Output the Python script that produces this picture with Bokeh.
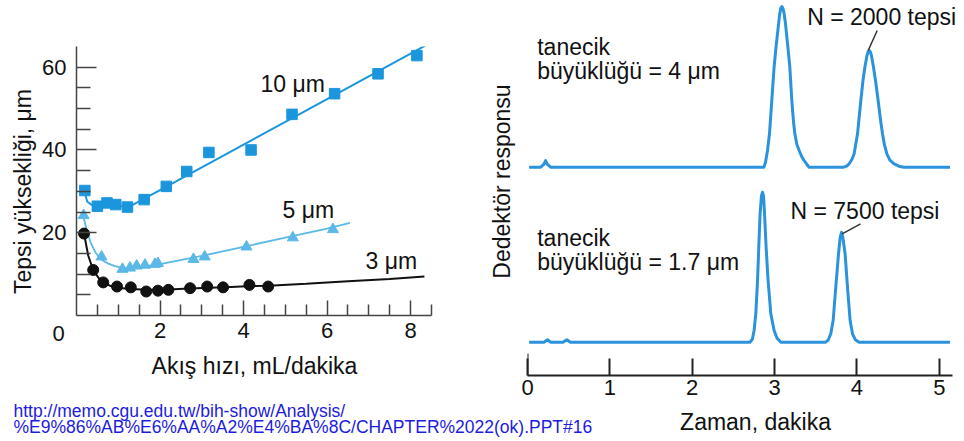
import math
from bokeh.plotting import figure
from bokeh.models import Range1d, FixedTicker, Label
from bokeh.layouts import row
from bokeh.embed import file_html
from bokeh.resources import INLINE

FONT = "Liberation Sans"

# ---------------- left chart: plate height vs flow rate ----------------
flow_10um = [0.20, 0.50, 0.73, 0.94, 1.22, 1.62, 2.15, 2.64, 3.17, 4.18, 5.16, 6.18, 7.22, 8.15]
plate_10um = [30.2, 26.4, 27.2, 26.8, 26.2, 28.0, 31.2, 34.8, 39.4, 40.0, 48.6, 53.6, 58.4, 62.8]
fit_x_10um = [0.12, 0.18, 0.26, 0.40, 0.70, 1.00, 1.30, 1.60, 2.00, 3.00, 4.00, 5.00, 6.00, 7.00, 8.35]
fit_y_10um = [30.6, 30.2, 27.5, 26.5, 26.3, 26.4, 26.5, 28.1, 30.3, 35.8, 41.3, 46.8, 52.3, 57.8, 65.2]

flow_5um = [0.17, 0.60, 1.10, 1.28, 1.44, 1.64, 1.88, 1.95, 2.80, 3.07, 4.07, 5.18, 6.14]
plate_5um = [24.2, 14.2, 11.2, 11.5, 12.0, 12.2, 12.4, 12.6, 13.6, 14.2, 16.6, 18.8, 20.8]
fit_x_5um = [0.15, 0.25, 0.34, 0.45, 0.58, 0.75, 0.90, 1.10, 1.30, 1.60, 2.00, 3.00, 4.00, 5.00, 6.00, 6.55]
fit_y_5um = [24.4, 20.5, 17.6, 15.3, 13.6, 12.6, 12.0, 11.5, 11.4, 11.8, 12.4, 14.4, 16.6, 18.8, 21.0, 22.4]

flow_3um = [0.18, 0.40, 0.64, 0.97, 1.30, 1.67, 1.95, 2.20, 2.72, 3.13, 3.51, 4.14, 4.59]
plate_3um = [19.8, 11.0, 8.0, 7.0, 6.8, 5.8, 6.0, 6.2, 6.6, 7.0, 6.8, 7.4, 7.0]
fit_x_3um = [0.18, 0.28, 0.40, 0.52, 0.64, 0.80, 0.97, 1.30, 1.70, 2.20, 2.70, 3.20, 3.70, 4.20, 4.60, 5.50, 6.50, 7.50, 8.33]
fit_y_3um = [19.8, 14.5, 11.0, 9.2, 8.0, 7.2, 6.7, 6.4, 6.2, 6.3, 6.5, 6.7, 6.9, 7.1, 7.2, 7.7, 8.3, 8.8, 9.4]

left_major_x = [2, 4, 6, 8]
left_minor_x = [0.5, 1, 1.5, 2.5, 3, 3.5, 4.5, 5, 5.5, 6.5, 7, 7.5, 8.5]
left_major_y = [20, 40, 60]
left_minor_y = [5, 10, 15, 25, 30, 35, 45, 50, 55]

# ---------------- right chart: chromatograms ----------------
t_upper = [0.02, 0.16, 0.20, 0.22, 0.24, 0.28,
           2.87, 2.89, 2.914, 2.938, 2.966, 2.994, 3.015, 3.035, 3.06, 3.075, 3.088, 3.10, 3.115,
           3.13, 3.145, 3.165, 3.185, 3.209, 3.23, 3.246, 3.27, 3.298, 3.33, 3.358, 3.39, 3.42,
           3.84, 3.875, 3.905, 3.94, 3.966, 4.007, 4.047, 4.075, 4.096, 4.12, 4.135, 4.148, 4.162,
           4.175, 4.201, 4.23, 4.257, 4.285, 4.31, 4.335, 4.363, 4.40, 4.451, 4.51, 4.57, 5.13]
s_upper = [0, 0, 3, 6.7, 3, 0,
           0, 5, 16.7, 33.4, 66.7, 100, 118, 133.4, 152, 159, 160.7, 159, 154,
           145, 133.4, 117, 100, 66.7, 45, 33.4, 23, 16.7, 10.5, 6.7, 3, 0,
           0, 1, 3.4, 8, 13.4, 33.4, 66.7, 88, 100, 111, 115.5, 116.7, 115.5,
           112, 100, 84, 66.7, 48, 33.4, 22, 13.4, 7, 3.4, 1, 0, 0]

t_lower = [0.02, 0.20, 0.243, 0.28, 0.43, 0.477, 0.52,
           2.70, 2.73, 2.751, 2.772, 2.793, 2.808, 2.824, 2.84, 2.853, 2.866, 2.878, 2.897,
           2.921, 2.954, 2.994, 3.03, 3.076,
           3.62, 3.65, 3.682, 3.711, 3.743, 3.776, 3.795, 3.813, 3.83, 3.856, 3.885, 3.917,
           3.946, 3.98, 4.026, 5.13]
s_lower = [0, 0, 2.5, 0, 0, 2.5, 0,
           0, 3, 11.7, 28.4, 61.7, 95, 128.4, 146, 150, 146, 128.4, 95,
           61.7, 28.4, 11.7, 4, 0,
           0, 2, 8.4, 21.7, 55, 88.4, 104, 110, 104, 88.4, 55, 21.7,
           8.4, 2.5, 0, 0]

right_ticks = [0, 1, 2, 3, 4, 5]

BASE_UPPER = 208.3
BASE_LOWER = 33.3

C10 = "#1b96dc"
C5 = "#5cb8e6"
C3 = "#111111"
CTRACE = "#2a93dc"
TXT = "#111111"

W, H = 964, 441

# ---------------- left figure ----------------
LW = 480
L = figure(width=LW, height=H, output_backend="svg", toolbar_location=None,
           x_range=Range1d(0, 8.5), y_range=Range1d(0, 65),
           min_border_left=76, min_border_right=LW - 431, min_border_top=46, min_border_bottom=126)
L.frame_align = False
L.outline_line_color = None
L.grid.visible = False
L.background_fill_color = None
L.border_fill_color = "white"

for ax in (L.xaxis[0], L.yaxis[0]):
    ax.axis_line_color = "#444444"
    ax.axis_line_width = 1.5
    ax.major_tick_line_color = "#444444"
    ax.minor_tick_line_color = "#444444"
    ax.major_tick_line_width = 1.5
    ax.minor_tick_line_width = 1.5
    ax.major_tick_out = 0
    ax.minor_tick_out = 0
    ax.major_label_text_font = FONT
    ax.major_label_text_font_size = "22px"
    ax.major_label_text_color = TXT

L.xaxis.ticker = FixedTicker(ticks=left_major_x, minor_ticks=left_minor_x)
L.xaxis.major_tick_in = 15
L.xaxis.minor_tick_in = 11
L.xaxis.major_label_standoff = 7
L.yaxis.ticker = FixedTicker(ticks=left_major_y, minor_ticks=left_minor_y)
L.yaxis.major_tick_in = 20
L.yaxis.minor_tick_in = 14
L.yaxis.major_label_standoff = 10

L.line(fit_x_10um, fit_y_10um, line_color=C10, line_width=2)
L.scatter(flow_10um, plate_10um, marker="square", size=10.5, color=C10)
L.line(fit_x_5um, fit_y_5um, line_color=C5, line_width=1.8)
L.scatter(flow_5um, plate_5um, marker="triangle", size=11, color=C5)
L.line(fit_x_3um, fit_y_3um, line_color=C3, line_width=2)
L.scatter(flow_3um, plate_3um, marker="circle", size=11, color=C3)

# ---------------- right figure ----------------
RW = 484
R = figure(width=RW, height=H, output_backend="svg", toolbar_location=None,
           x_range=Range1d(0, 5.16), y_range=Range1d(0, 375),
           min_border_left=47, min_border_right=12, min_border_top=0, min_border_bottom=66)
R.frame_align = False
R.outline_line_color = None
R.grid.visible = False
R.background_fill_color = None
R.border_fill_color = None
R.yaxis.visible = False


def rp(px, py):
    return (px - 527) * 5.16 / 425, 375 - py


xa = R.xaxis[0]
xa.ticker = FixedTicker(ticks=right_ticks)
xa.axis_line_color = "#222222"
xa.axis_line_width = 2
xa.major_tick_line_color = "#222222"
xa.major_tick_line_width = 2
xa.major_tick_in = 17
xa.major_tick_out = 0
xa.minor_tick_in = 0
xa.minor_tick_out = 0
xa.major_label_text_font = FONT
xa.major_label_text_font_size = "22px"
xa.major_label_text_color = TXT
xa.major_label_standoff = 4

R.line(t_upper, [s + BASE_UPPER for s in s_upper], line_color=CTRACE, line_width=3,
       line_join="round")
R.line(t_lower, [s + BASE_LOWER for s in s_lower], line_color=CTRACE, line_width=3,
       line_join="round")

# taller tick at time zero
R.segment(x0=[0], y0=[0], x1=[0], y1=[22], line_color="#222222", line_width=2)

x0, y0 = rp(876.7, 30)
x1, y1 = rp(867.7, 50)
R.segment(x0=[x0], y0=[y0], x1=[x1], y1=[y1], line_color="#333333", line_width=1.5)
x0, y0 = rp(860, 223.3)
x1, y1 = rp(841.7, 233.3)
R.segment(x0=[x0], y0=[y0], x1=[x1], y1=[y1], line_color="#333333", line_width=1.5)

# ---------------- transparent overlay for all free texts ----------------
T = figure(width=W, height=H, output_backend="svg", toolbar_location=None,
           x_range=Range1d(0, W), y_range=Range1d(H, 0),
           x_axis_location=None, y_axis_location=None,
           min_border_left=0, min_border_right=0, min_border_top=0, min_border_bottom=0)
T.frame_align = False
T.margin = (0, 0, 0, -W)
T.outline_line_color = None
T.grid.visible = False
T.background_fill_color = None
T.border_fill_color = None


def text_label(px, py, text, size="23px", align="left", angle=0.0, color=TXT,
               baseline="middle"):
    T.add_layout(Label(x=px, y=py, x_units="canvas", y_units="canvas", text=text,
                       text_font=FONT, text_font_size=size, text_align=align,
                       text_baseline=baseline, angle=angle, text_color=color))


text_label(260, 83, "10 μm")
text_label(282, 209, "5 μm")
text_label(365, 260, "3 μm")
text_label(58, 333, "0", size="22px", align="center")
text_label(22, 191, "Tepsi yüksekliği, μm", align="center", angle=math.pi / 2)
text_label(254, 365, "Akış hızı, mL/dakika", align="center")
text_label(13, 410, "http://memo.cgu.edu.tw/bih-show/Analysis/", size="17.5px",
           color="#1c1ce0")
text_label(13, 426.5, "%E9%86%AB%E6%AA%A2%E4%BA%8C/CHAPTER%2022(ok).PPT#16", size="17.5px",
           color="#1c1ce0")

text_label(806.7, 16.7, "N = 2000 tepsi")
text_label(790, 210, "N = 7500 tepsi")
text_label(536.7, 46.7, "tanecik")
text_label(536.7, 70.7, "büyüklüğü = 4 μm")
text_label(536.7, 237.3, "tanecik")
text_label(536.7, 261.7, "büyüklüğü = 1.7 μm")
text_label(501.7, 181, "Dedektör responsu", align="center", angle=math.pi / 2)
text_label(755, 421.7, "Zaman, dakika", align="center")

layout = row(L, R, T)
open("out.html", "w").write(file_html(layout, INLINE))
